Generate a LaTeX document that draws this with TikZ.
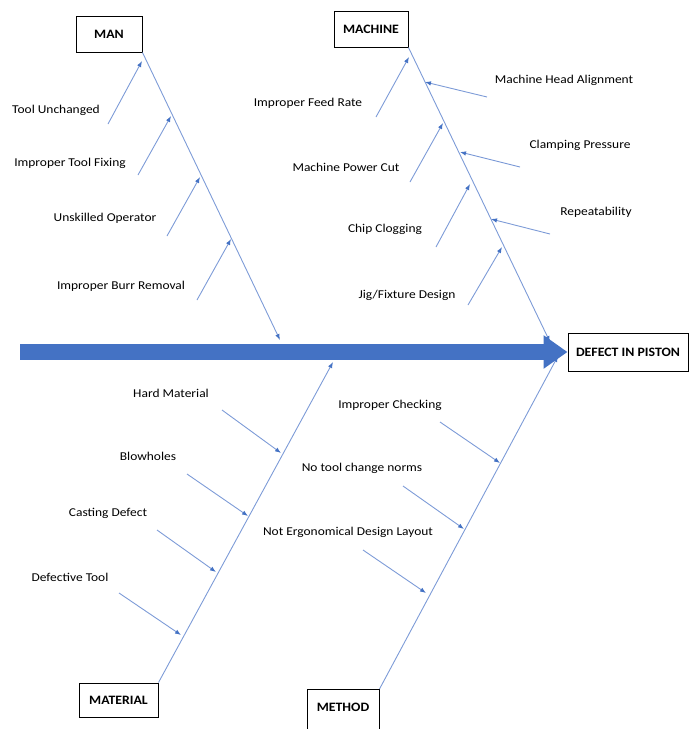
\documentclass[tikz,border=0pt]{standalone}
\usepackage{fontspec}
\setmainfont{Carlito}
\newfontfamily\causefont{Carlito}[FakeStretch=1.12]
\newfontfamily\catfont{Carlito}[FakeStretch=1.08]
\usetikzlibrary{arrows.meta,calc}
\definecolor{spineblue}{RGB}{68,114,196}
\definecolor{boneblue}{RGB}{125,155,215}
\begin{document}
\begin{tikzpicture}[x=1pt,y=-1pt,
  catbox/.style={draw=black,line width=1pt,fill=white,inner sep=0pt,
    font=\catfont\fontsize{12.8}{14}\selectfont\bfseries},
  cause/.style={inner sep=0pt,font=\causefont\fontsize{12}{14}\selectfont},
  bone/.style={draw=boneblue,line width=0.9pt,
    -{Latex[length=6pt,width=4.5pt,color=spineblue]}},
  mainarrow/.style={draw=spineblue,line width=16pt,
    -{Triangle[length=24pt,width=32pt,color=spineblue]}},
]
\useasboundingbox (0,0) rectangle (691,729);
\clip (0,0) rectangle (691,729);

% category and effect boxes
\node[catbox,minimum width=66pt,minimum height=36pt] (man) at (109,34) {MAN};
\node[catbox,minimum width=74pt,minimum height=36pt] (machine) at (371,29) {MACHINE};
\node[catbox,minimum width=120pt,minimum height=38pt] (effect) at (628,352) {DEFECT IN PISTON};
\node[catbox,minimum width=79pt,minimum height=34pt] (material) at (118.5,700) {MATERIAL};
\node[catbox,minimum width=72pt,minimum height=50pt,anchor=north] (method) at (343,689) {};
\node[inner sep=0pt,font=\catfont\fontsize{12.8}{14}\selectfont\bfseries] (methodtxt) at (343,707) {METHOD};

% backbone
\coordinate (tail) at (20,352);
\draw[mainarrow] (tail) -- (effect.west);

% category spines
\coordinate (manEnd) at (280,340);
\coordinate (machEnd) at (550,342);
\coordinate (matEnd) at (333,362);
\coordinate (methEnd) at (558,356);
\draw[bone] (man.south east) -- (manEnd);
\draw[bone] (machine.south east) -- (machEnd);
\draw[bone] (material.north east) -- (matEnd);
\draw[bone] (method.north east) -- (methEnd);

% MAN causes
\node[cause] (m1) at (56,110) {Tool Unchanged};
\node[cause] (m2) at (70,163) {Improper Tool Fixing};
\node[cause] (m3) at (105,218) {Unskilled Operator};
\node[cause] (m4) at (121,286) {Improper Burr Removal};
\coordinate (m1s) at (108,124); \coordinate (m1e) at (142,61);
\coordinate (m2s) at (138,175); \coordinate (m2e) at (171,116);
\coordinate (m3s) at (167,236); \coordinate (m3e) at (200,177);
\coordinate (m4s) at (197,300); \coordinate (m4e) at (231,239);
\foreach \i in {1,...,4} \draw[bone] (m\i s) -- (m\i e);

% MACHINE causes, left side
\node[cause] (k1) at (308,103) {Improper Feed Rate};
\node[cause] (k2) at (346,167) {Machine Power Cut};
\node[cause] (k3) at (385,229) {Chip Clogging};
\node[cause] (k4) at (407,295) {Jig/Fixture Design};
\coordinate (k1s) at (376,117); \coordinate (k1e) at (409,57);
\coordinate (k2s) at (410,182); \coordinate (k2e) at (443,123);
\coordinate (k3s) at (436,247); \coordinate (k3e) at (470,184);
\coordinate (k4s) at (468,305); \coordinate (k4e) at (502,247);
\foreach \i in {1,...,4} \draw[bone] (k\i s) -- (k\i e);

% MACHINE causes, right side
\node[cause] (r1) at (564,80) {Machine Head Alignment};
\node[cause] (r2) at (580,145) {Clamping Pressure};
\node[cause] (r3) at (596,212) {Repeatability};
\coordinate (r1s) at (487,97);  \coordinate (r1e) at (425,82);
\coordinate (r2s) at (520,167); \coordinate (r2e) at (460,152);
\coordinate (r3s) at (550,234); \coordinate (r3e) at (491,219);
\foreach \i in {1,...,3} \draw[bone] (r\i s) -- (r\i e);

% MATERIAL causes
\node[cause] (t1) at (171,393) {Hard Material};
\node[cause] (t2) at (148,456) {Blowholes};
\node[cause] (t3) at (108,513) {Casting Defect};
\node[cause] (t4) at (70,577) {Defective Tool};
\coordinate (t1s) at (222,410); \coordinate (t1e) at (281,453);
\coordinate (t2s) at (187,474); \coordinate (t2e) at (248,516);
\coordinate (t3s) at (157,530); \coordinate (t3e) at (216,572);
\coordinate (t4s) at (119,593); \coordinate (t4e) at (181,635);
\foreach \i in {1,...,4} \draw[bone] (t\i s) -- (t\i e);

% METHOD causes
\node[cause] (d1) at (390,405) {Improper Checking};
\node[cause] (d2) at (362,468) {No tool change norms};
\node[cause] (d3) at (348,532) {Not Ergonomical Design Layout};
\coordinate (d1s) at (440,422); \coordinate (d1e) at (500,463);
\coordinate (d2s) at (403,486); \coordinate (d2e) at (464,529);
\coordinate (d3s) at (363,550); \coordinate (d3e) at (426,593);
\foreach \i in {1,...,3} \draw[bone] (d\i s) -- (d\i e);
\end{tikzpicture}
\end{document}
